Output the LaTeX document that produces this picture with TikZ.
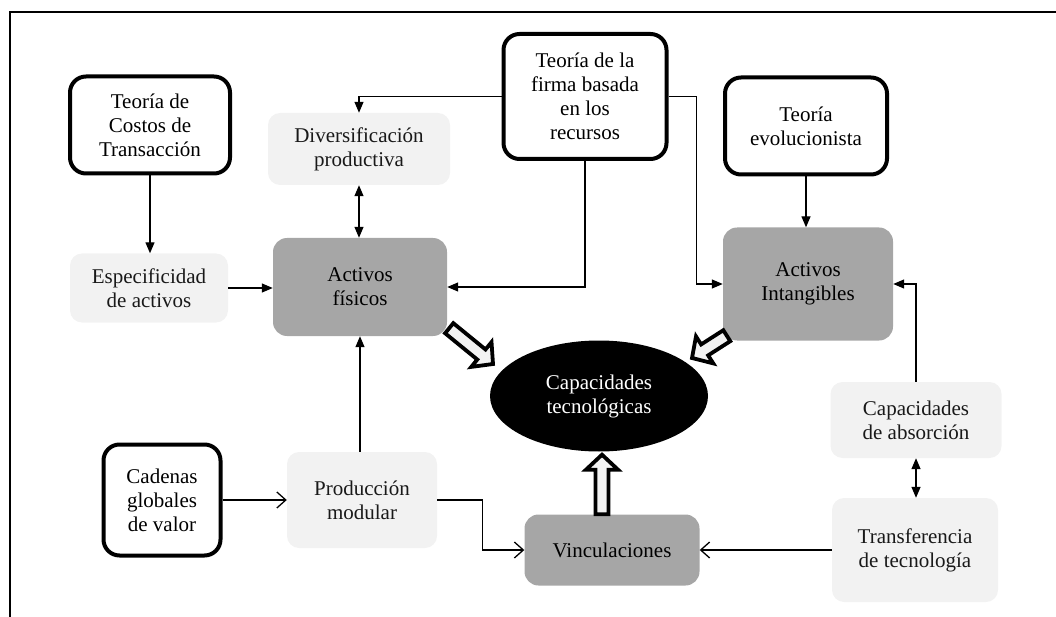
\documentclass[tikz,border=0pt]{standalone}
\usepackage{fontspec}
\setmainfont{Liberation Serif}
\usetikzlibrary{calc,arrows.meta,shapes.geometric}

\definecolor{lightbox}{HTML}{F2F2F2}
\definecolor{darkbox}{HTML}{A6A6A6}

\tikzset{
boxsize/.style 2 args={minimum width=#1pt,minimum height=#2pt},
box/.style={align=center,inner sep=2pt,font=\fontsize{21}{24}\selectfont},
theory/.style={box,draw,line width=4pt,fill=white,rounded corners=16pt},
light/.style={box,fill=lightbox,text=black!90,rounded corners=12pt},
dark/.style={box,fill=darkbox,rounded corners=14pt},
link/.style={line width=1.3pt},
filled/.style={link,-{Triangle[length=11pt,width=9pt]}},
both/.style={link,{Triangle[length=11pt,width=9pt]}-{Triangle[length=11pt,width=9pt]}},
open/.style={link,-{Straight Barb[length=9pt,width=16pt]}},
hollow/.style={line width=3.8pt,fill=lightbox,
to path={
($(\tikztostart)!6.5pt!90:(\tikztotarget)$)
-- ($($(\tikztotarget)!15pt!(\tikztostart)$)!6.5pt!-90:(\tikztostart)$)
-- ($($(\tikztotarget)!15pt!(\tikztostart)$)!16pt!-90:(\tikztostart)$)
-- (\tikztotarget)
-- ($($(\tikztotarget)!15pt!(\tikztostart)$)!16pt!90:(\tikztostart)$)
-- ($($(\tikztotarget)!15pt!(\tikztostart)$)!6.5pt!90:(\tikztostart)$)
-- ($(\tikztostart)!6.5pt!-90:(\tikztotarget)$) -- cycle}}
}

\begin{document}
\begin{tikzpicture}[x=1pt,y=-1pt]
\useasboundingbox (0,0) rectangle (1056,617);
\draw[line width=2pt] (10,617) -- (10,12) -- (1056,12);

% the theories
\node[theory,boxsize={160}{97}] (costos) at (150,125) {Teoría de\\Costos de\\Transacción};
\node[theory,boxsize={163}{125}] (firma) at (585,96.5) {Teoría de la\\firma basada\\en los\\recursos};
\node[theory,boxsize={162}{97}] (evolucionista) at (806,126) {Teoría\\evolucionista};
\node[theory,boxsize={117}{111}] (cadenas) at (162,500) {Cadenas\\globales\\de valor};

% the light boxes
\node[light,boxsize={158}{69}] (especificidad) at (149,288) {Especificidad\\de activos};
\node[light,boxsize={182}{72}] (diversificacion) at (359,149) {Diversificación\\productiva};
\node[light,boxsize={150}{96}] (modular) at (362,500) {Producción\\modular};
\node[light,boxsize={171}{76}] (absorcion) at (916,420) {Capacidades\\de absorción};
\node[light,boxsize={166}{104}] (transferencia) at (915,550) {Transferencia\\de tecnología};

% the dark boxes
\node[dark,boxsize={174}{98}] (fisicos) at (360,287) {Activos\\físicos};
\node[dark,boxsize={170}{113}] (intangibles) at (808,284) {Activos\\Intangibles};
\node[dark,boxsize={175}{71}] (vinculaciones) at (612,550) {Vinculaciones};

\node[box,ellipse,fill=black,text=white,minimum width=218pt,minimum height=111pt]
(capacidades) at (599,396) {Capacidades\\tecnológicas};

% thin links
\draw[filled] (costos.south) -- (costos.south |- especificidad.north);
\draw[filled] (especificidad.east) -- (especificidad.east -| fisicos.west);
\draw[both] (diversificacion.south) -- (diversificacion.south |- fisicos.north);
\draw[filled] (firma.west) -| (diversificacion.north);
\draw[filled] (firma.south) |- (fisicos.east);
\draw[filled] (firma.east) -- ++(28,0) |- (intangibles.west);
\draw[filled] (evolucionista.south) -- (evolucionista.south |- intangibles.north);
\draw[filled] (absorcion.north) |- (intangibles.east);
\draw[both] (absorcion.south) -- (absorcion.south |- transferencia.north);
\draw[open] (transferencia.west) -- (vinculaciones.east);
\draw[open] (cadenas.east) -- (modular.west);
\draw[filled] (modular.north -| fisicos.south) -- (fisicos.south);
\draw[open] (modular.east) -- ++(45,0) |- (vinculaciones.west);

% the big hollow arrows
\coordinate (fisicos out) at ($(fisicos.south east)+(2,-8)$);
\coordinate (intangibles out) at ($(intangibles.south west)+(4,-5)$);
\coordinate (vinculaciones out) at ($(vinculaciones.north)+(-10,0)$);
\coordinate (capacidades left) at ($(capacidades.center)+(-106,-32)$);
\coordinate (capacidades right) at ($(capacidades.center)+(93,-38)$);
\coordinate (capacidades below) at ($(capacidades.south)+(3,3)$);
\foreach \from/\to in {fisicos out/capacidades left,intangibles out/capacidades right,
vinculaciones out/capacidades below}
\draw[hollow] (\from) to (\to);
\end{tikzpicture}
\end{document}
